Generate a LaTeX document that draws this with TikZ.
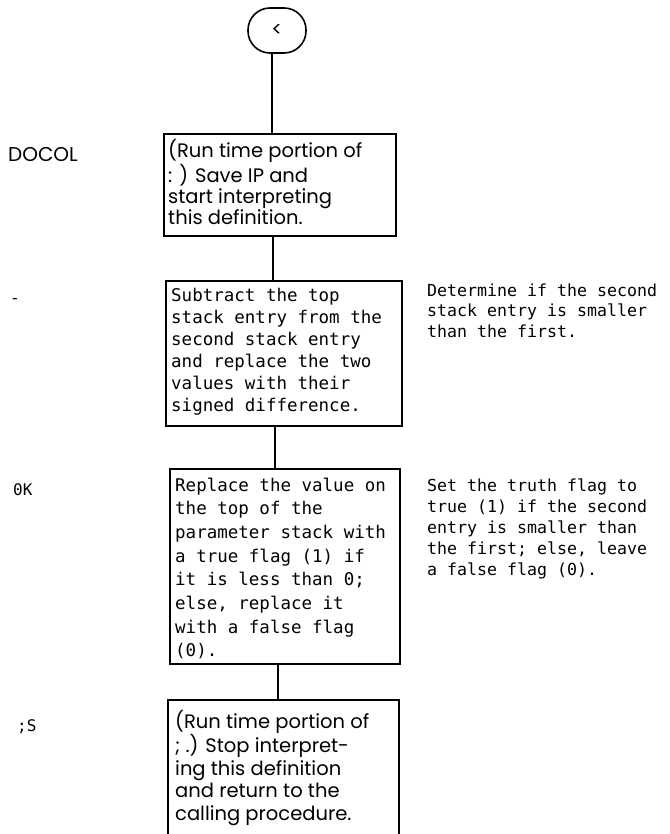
\documentclass[tikz,border=0pt]{standalone}
\usepackage{fontspec}
\setmainfont{DejaVu Sans Mono}
\newfontfamily\geofont{Poppins}
\newfontfamily\monofont{DejaVu Sans Mono}
\begin{document}
\begin{tikzpicture}[x=1pt,y=-1pt,
  frame/.style={draw, line width=1.6pt, anchor=north west, inner sep=0pt},
  txt/.style={anchor=base west, inner sep=0pt},
  lbl/.style={anchor=base west, inner sep=0pt},
  conn/.style={line width=1.6pt}]
\useasboundingbox (0,0) rectangle (669,834);

% terminal
\node[draw, line width=1.6pt, rounded corners=22pt, minimum width=58pt, minimum height=45pt, inner sep=0pt,
      font=\geofont\fontsize{20}{22}\selectfont] (term) at (277,30.5) {<};

% box frames
\node[frame, minimum width=232pt, minimum height=102pt] (b1) at (163,133) {};
\node[frame, minimum width=236pt, minimum height=145pt] (b2) at (165,280) {};
\node[frame, minimum width=230pt, minimum height=195pt] (b3) at (169,468) {};
\node[frame, minimum width=231pt, minimum height=145pt] (b4) at (167,699) {};

% box texts
\node[txt] (t1) at (168,158) {\parbox[t]{225pt}{\raggedright\geofont\fontsize{19.5}{21.3}\selectfont
 (Run time portion of\\: ) Save IP and\\start interpreting\\this definition.}};
\node[txt] (t2) at (171,301) {\parbox[t]{228pt}{\raggedright\monofont\fontsize{17.5}{22}\selectfont
 Subtract the top\\stack entry from the\\second stack entry\\and replace the two\\values with their\\signed difference.}};
\node[txt] (t3) at (175,491) {\parbox[t]{222pt}{\raggedright\monofont\fontsize{17.5}{23.7}\selectfont
 Replace the value on\\the top of the\\parameter stack with\\a true flag (1) if\\it is less than 0;\\else, replace it\\with a false flag\\(0).}};
\node[txt] (t4) at (175,728) {\parbox[t]{222pt}{\raggedright\geofont\fontsize{19.5}{22.8}\selectfont
 (Run time portion of\\; .) Stop interpret-\\ing this definition\\and return to the\\calling procedure.}};

% side notes
\node[txt] (s2) at (427,296) {\parbox[t]{240pt}{\raggedright\monofont\fontsize{16.6}{20.8}\selectfont
 Determine if the second\\stack entry is smaller\\than the first.}};
\node[txt] (s3) at (427,491) {\parbox[t]{240pt}{\raggedright\monofont\fontsize{16.6}{21}\selectfont
 Set the truth flag to\\true (1) if the second\\entry is smaller than\\the first; else, leave\\a false flag (0).}};

% labels
\node[lbl, font=\geofont\fontsize{20}{22}\selectfont] (l1) at (8,162) {DOCOL};
\node[lbl, font=\monofont\fontsize{16}{18}\selectfont] (l2) at (10,303) {-};
\node[lbl, font=\monofont\fontsize{16}{18}\selectfont] (l3) at (13,495) {0K};
\node[lbl, font=\monofont\fontsize{16}{18}\selectfont] (l4) at (17,731) {;S};

% connectors
\coordinate (x0) at (272,0);
\coordinate (x1) at (273,0);
\coordinate (x2) at (275,0);
\coordinate (x3) at (278,0);
\draw[conn] (term.south -| x0) -- (b1.north -| x0);
\draw[conn] (b1.south -| x1) -- (b2.north -| x1);
\draw[conn] (b2.south -| x2) -- (b3.north -| x2);
\draw[conn] (b3.south -| x3) -- (b4.north -| x3);
\end{tikzpicture}
\end{document}
